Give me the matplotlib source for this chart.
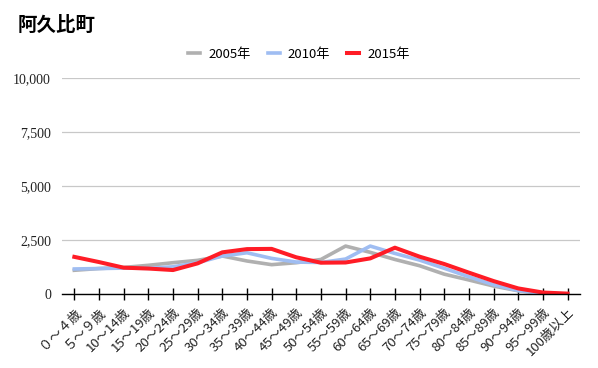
import matplotlib.pyplot as plt
import numpy as np

plt.rcParams['font.family'] = ['Noto Sans CJK JP', 'DejaVu Sans']

# Data
age_groups = ['０～４歳', '５～９歳', '10～14歳', '15～19歳', '20～24歳', '25～29歳',
              '30～34歳', '35～39歳', '40～44歳', '45～49歳', '50～54歳', '55～59歳',
              '60～64歳', '65～69歳', '70～74歳', '75～79歳', '80～84歳', '85～89歳',
              '90～94歳', '95～99歳', '100歳以上']
pop_2005 = [1100, 1180, 1230, 1330, 1450, 1560, 1760, 1530, 1360, 1450, 1600, 2220,
            1930, 1600, 1310, 920, 650, 370, 150, 30, 5]
pop_2010 = [1160, 1180, 1200, 1190, 1260, 1450, 1760, 1910, 1650, 1480, 1460, 1620,
            2220, 1880, 1570, 1190, 800, 430, 160, 30, 5]
pop_2015 = [1720, 1480, 1220, 1180, 1110, 1420, 1930, 2080, 2090, 1700, 1450, 1460,
            1650, 2145, 1730, 1390, 990, 600, 260, 70, 20]
series_names = ['2005年', '2010年', '2015年']
series_colors = ['#b0b0b0', '#9fbdf2', '#ff1c26']
y_ticks = [0, 2500, 5000, 7500, 10000]

fig = plt.figure(figsize=(5.98, 3.68), dpi=100)
ax = fig.add_axes([0.1037, 0.201, 0.866, 0.587])

x = np.arange(len(age_groups))
for vals, name, col, lw in zip([pop_2005, pop_2010, pop_2015], series_names,
                               series_colors, [2.6, 2.6, 2.9]):
    ax.plot(x, vals, color=col, lw=lw, label=name, solid_joinstyle='round')

ax.set_xlim(-0.5, len(age_groups) - 0.5)
ax.set_ylim(0, 10000)
ax.set_yticks(y_ticks)
ax.set_yticklabels([f'{v:,}' for v in y_ticks], family='Liberation Serif',
                   fontsize=10, color='#222222')
ax.yaxis.grid(True, color='#c8c8c8', lw=0.9)
ax.set_axisbelow(True)
ax.tick_params(axis='y', length=0, pad=8)

ax.set_xticks(x)
ax.set_xticklabels(age_groups, rotation=45, ha='right', rotation_mode='anchor',
                   fontsize=9.5, color='#222222')
ax.tick_params(axis='x', direction='inout', length=9, width=1, color='black', pad=4)

for s in ['top', 'right', 'left']:
    ax.spines[s].set_visible(False)
ax.spines['bottom'].set_color('black')
ax.spines['bottom'].set_linewidth(1)
ax.spines['bottom'].set_zorder(5)

fig.text(0.03, 0.93, '阿久比町', fontsize=14, fontweight='bold', ha='left', va='center')
fig.legend(loc='center', bbox_to_anchor=(0.5, 0.852), ncol=3, frameon=False,
           fontsize=9.5, handlelength=0.9, handletextpad=0.6, columnspacing=1.3)

fig.savefig('out.png', dpi=100)
